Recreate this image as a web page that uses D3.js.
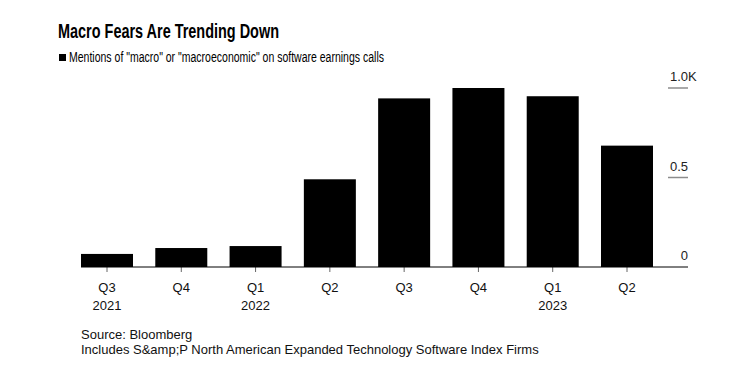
<!DOCTYPE html>
<html>
<head>
<meta charset="utf-8">
<script src="https://cdn.jsdelivr.net/npm/d3@7"></script>
<style>
  body { margin: 0; background: #fff; }
  text { font-family: "Liberation Sans", Arial, sans-serif; }
</style>
</head>
<body>
<svg></svg>
<script>
const QUARTERS = ["Q3", "Q4", "Q1", "Q2", "Q3", "Q4", "Q1", "Q2"];
const YEARS = ["2021", "", "2022", "", "", "", "2023", ""];
const MENTIONS = [73, 106, 117, 490, 942, 1000, 954, 678];
const Y_TICKS = [0, 500, 1000];
const Y_TICK_LABELS = ["0", "0.5", "1.0"];

const w = 731, h = 380;
const plot = {left: 81, right: 653, top: 88, bottom: 267, axisEnd: 688};

const svg = d3.select('svg')
	.attr('width', w)
	.attr('height', h)
	.attr('viewBox', [0, 0, w, h]);

svg.append('rect')
	.attr('width', w)
	.attr('height', h)
	.attr('fill', '#fff');

const keys = QUARTERS.map((q, i) => i);

const xScale = d3.scaleBand()
	.domain(keys)
	.range([plot.left, plot.right])
	.paddingInner(0.3)
	.paddingOuter(0);

const yScale = d3.scaleLinear()
	.domain([0, 1000])
	.range([plot.bottom, plot.top]);

// title + legend
svg.append('text')
	.attr('x', 58).attr('y', 38)
	.attr('font-size', 20).attr('font-weight', 'bold')
	.attr('textLength', 221).attr('lengthAdjust', 'spacingAndGlyphs')
	.attr('fill', '#000')
	.text('Macro Fears Are Trending Down');

svg.append('rect')
	.attr('x', 59).attr('y', 54)
	.attr('width', 7).attr('height', 7)
	.attr('fill', '#000');

svg.append('text')
	.attr('x', 69).attr('y', 62)
	.attr('font-size', 14)
	.attr('textLength', 315).attr('lengthAdjust', 'spacingAndGlyphs')
	.attr('fill', '#000')
	.text('Mentions of "macro" or "macroeconomic" on software earnings calls');

// y gridlines (short stubs on the right) + labels
const yTicks = svg.append('g');
yTicks.selectAll('line')
	.data(Y_TICKS.filter(d => d > 0))
	.enter().append('line')
	.attr('x1', 668).attr('x2', plot.axisEnd)
	.attr('y1', d => yScale(d)).attr('y2', d => yScale(d))
	.attr('stroke', '#8c8c8c').attr('stroke-width', 1.5);

yTicks.selectAll('text')
	.data(Y_TICKS)
	.enter().append('text')
	.attr('x', plot.axisEnd)
	.attr('y', d => yScale(d) - 7)
	.attr('text-anchor', 'end')
	.attr('font-size', 13)
	.attr('fill', '#222')
	.text((d, i) => Y_TICK_LABELS[i]);

svg.append('text')
	.attr('x', plot.axisEnd).attr('y', yScale(1000) - 7)
	.attr('font-size', 13).attr('fill', '#222')
	.text('K');

// bars
svg.selectAll('.bar')
	.data(MENTIONS)
	.enter().append('rect')
	.attr('class', 'bar')
	.attr('x', (d, i) => xScale(i))
	.attr('width', xScale.bandwidth())
	.attr('y', d => yScale(d))
	.attr('height', d => yScale(0) - yScale(d))
	.attr('fill', '#000');

// x axis
const xAxis = svg.append('g')
	.attr('transform', `translate(0,${plot.bottom})`)
	.call(d3.axisBottom(xScale).tickSize(5).tickSizeOuter(0).tickFormat(''));
xAxis.select('.domain').remove();
xAxis.selectAll('.tick line').attr('stroke', '#666');

svg.append('line')
	.attr('x1', plot.left).attr('x2', plot.axisEnd)
	.attr('y1', plot.bottom).attr('y2', plot.bottom)
	.attr('stroke', '#000').attr('stroke-width', 1);

const xLabels = svg.append('g');
xLabels.selectAll('text.q')
	.data(keys)
	.enter().append('text')
	.attr('class', 'q')
	.attr('x', i => xScale(i) + xScale.bandwidth() / 2)
	.attr('y', 292)
	.attr('text-anchor', 'middle')
	.attr('font-size', 13)
	.attr('fill', '#111')
	.text(i => QUARTERS[i]);
xLabels.selectAll('text.yr')
	.data(keys.filter(i => YEARS[i]))
	.enter().append('text')
	.attr('class', 'yr')
	.attr('x', i => xScale(i) + xScale.bandwidth() / 2)
	.attr('y', 310)
	.attr('text-anchor', 'middle')
	.attr('font-size', 13)
	.attr('fill', '#111')
	.text(i => YEARS[i]);

// footer
svg.append('text')
	.attr('x', 81).attr('y', 339)
	.attr('font-size', 13).attr('fill', '#111')
	.text('Source: Bloomberg');
svg.append('text')
	.attr('x', 81).attr('y', 354)
	.attr('font-size', 13).attr('fill', '#111')
	.text('Includes S&amp;P North American Expanded Technology Software Index Firms');
</script>
</body>
</html>
